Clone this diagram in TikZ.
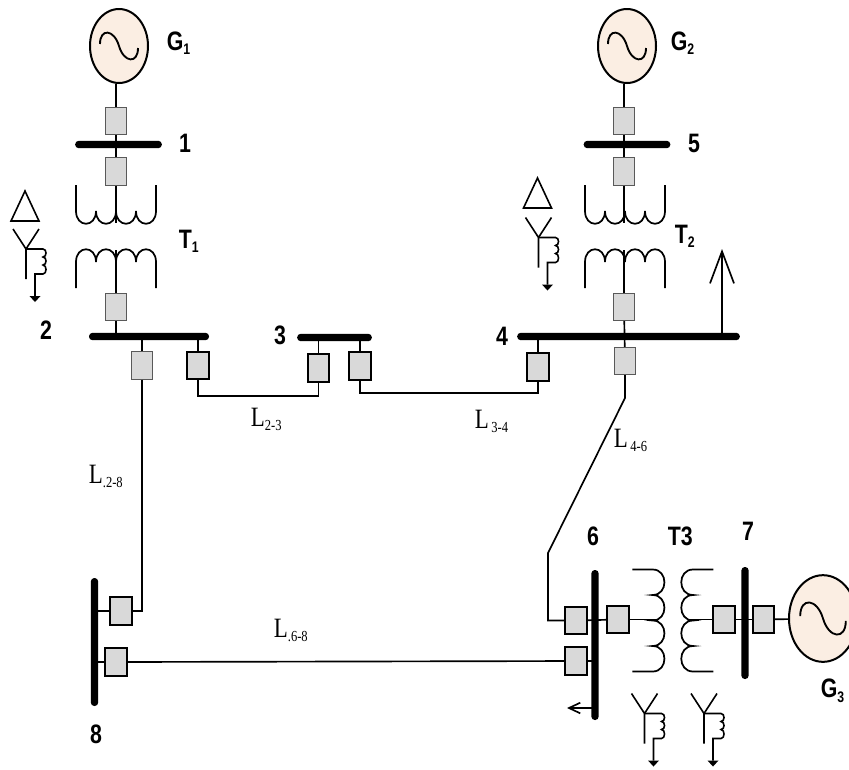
\documentclass[tikz,border=0pt]{standalone}
\usepackage{fontspec}
\setmainfont[FakeStretch=0.82]{Liberation Serif}
\newfontfamily\busfont[FakeStretch=0.8]{Liberation Sans}
\usetikzlibrary{arrows.meta,positioning,shapes.geometric}
\definecolor{genfill}{HTML}{FBEEE3}
\definecolor{cbfill}{HTML}{D9D9D9}
\newcommand{\subtxt}[1]{\raisebox{-3.4pt}{\fontsize{11.5}{11.5}\selectfont #1}}
\tikzset{
  cb/.style={rectangle,draw=black!65,fill=cbfill,line width=.8pt,minimum width=16pt,minimum height=20.5pt,inner sep=0pt},
  cbk/.style={cb,draw=black,line width=1.5pt},
  bush/.style={rectangle,fill=black,rounded corners=2.6pt,minimum height=5.5pt,inner sep=0pt},
  busv/.style={rectangle,fill=black,rounded corners=2.6pt,minimum width=5.5pt,inner sep=0pt},
  gen/.style={ellipse,draw=black,fill=genfill,line width=1.5pt,minimum width=43.5pt,minimum height=55.5pt,inner sep=0pt},
  bold/.style={font=\busfont\bfseries\fontsize{20}{20}\selectfont,inner sep=0pt,anchor=base},
  boldw/.style={bold,anchor=base west},
  linelab/.style={font=\fontsize{21}{21}\selectfont,inner sep=0pt,anchor=base west},
  pics/sine/.style={code={
    \draw[line width=1.4pt] (-19,-2) .. controls (-19,-18) and (-5,-17) .. (0,0) .. controls (5,17) and (19,18) .. (19,2);
  }},
  pics/winding/.style={code={
    \draw[line width=1.3pt] (-40,-#1) -- (-40,0) .. controls (-40,17) and (-20,17) .. (-20,0)
      .. controls (-20,17) and (0,17) .. (0,0) .. controls (0,17) and (20,17) .. (20,0)
      .. controls (20,17) and (40,17) .. (40,0) -- (40,-#1);
  }},
  pics/delta/.style={code={
    \draw[line width=1.2pt] (0,0) -- (-14,30) -- (14,30) -- cycle;
  }},
  pics/wyegnd/.style={code={
    \draw[line width=1.2pt] (-13,-20) -- (0,0) -- (13,-20) (0,0) -- (0,30);
    \draw[line width=1.2pt] (0,0) -- (17,0) .. controls (21,0) and (21,8) .. (17,8)
      .. controls (21,8) and (21,16) .. (17,16) .. controls (21,16) and (21,25) .. (17,25) -- (9,25) -- (9,47);
    \fill (3.5,47) -- (14.5,47) -- (9,53) -- cycle;
  }},
}
\begin{document}
\begin{tikzpicture}[x=.75pt,y=-.75pt,line width=1.25pt]
  \useasboundingbox (0,0) rectangle (849,769);
  % generators
  \node[gen] (gen1) at (119,46) {};
  \node[gen] (gen2) at (627,46) {};
  \node[gen,minimum width=51pt,minimum height=65pt] (gen3) at (823,618.5) {};
  \pic at (gen1) {sine};
  \pic at (gen2) {sine};
  \pic[scale=1.2] at (gen3) {sine};
  % busbars
  \node[bush,minimum width=65pt] (bus1) at (118.5,144.5) {};
  \node[bush,minimum width=90pt] (bus2) at (149,336.5) {};
  \node[bush,minimum width=56pt] (bus3) at (334.5,337.5) {};
  \node[bush,minimum width=167pt] (bus4) at (628.5,336.5) {};
  \node[bush,minimum width=65pt] (bus5) at (627,144.5) {};
  \node[busv,minimum height=112.5pt] (bus6) at (595,645) {};
  \node[busv,minimum height=84pt] (bus7) at (745,623) {};
  \node[busv,minimum height=96pt] (bus8) at (94.5,642) {};
  % breakers
  \node[cb] (cb11) at (116,121) {};
  \node[cb] (cb12) at (116,171.5) {};
  \node[cb] (cb21) at (116,307) {};
  \node[cb] (cb28) at (142,365.5) {};
  \node[cbk] (cb23) at (198,365.5) {};
  \node[cbk] (cb32) at (318.5,368) {};
  \node[cbk] (cb34) at (360,366) {};
  \node[cbk] (cb43) at (538,367) {};
  \node[cb] (cb46) at (625,361) {};
  \node[cb] (cb42) at (624,307) {};
  \node[cb] (cb52) at (624,171.5) {};
  \node[cb] (cb51) at (624,121) {};
  \node[cbk] (cb64) at (576,620.5) {};
  \node[cbk] (cb68) at (576,661) {};
  \node[cbk] (cb6t) at (618,619.5) {};
  \node[cbk] (cb7t) at (724,619.5) {};
  \node[cbk] (cb7g) at (763.5,619.5) {};
  \node[cbk] (cb82) at (121,611) {};
  \node[cbk] (cb86) at (116,662) {};
  % bends and winding ends
  \coordinate (w23) at (198,396);
  \coordinate (w34) at (360,393);
  \coordinate (w46a) at (625,398);
  \coordinate (w46b) at (548,553);
  \coordinate (t1u) at (116,223);
  \coordinate (t1l) at (116,250);
  \coordinate (t2u) at (624,223);
  \coordinate (t2l) at (624,250);
  \coordinate (t3l) at (657,619.5);
  \coordinate (t3r) at (690,619.5);
  \coordinate (loadtip) at (722,249);
  \coordinate (loadsix) at (567,708);
  % transformers
  \pic at (116,211) {winding=26};
  \pic[yscale=-1] at (116,262) {winding=26};
  \pic at (625,211) {winding=26};
  \pic[yscale=-1] at (625,262) {winding=26};
  \pic[rotate=90,xscale=1.275,yscale=.92] at (652.7,620.5) {winding=22};
  \pic[rotate=-90,xscale=1.275,yscale=.92] at (693,620.5) {winding=22};
  \pic at (25,191) {delta};
  \pic at (537.5,178) {delta};
  \pic at (26,249) {wyegnd};
  \pic at (538.5,237.5) {wyegnd};
  \pic at (644.5,713.5) {wyegnd};
  \pic at (704,713.5) {wyegnd};
  % connectors
  \draw (cb11) -- (cb11 |- gen1.south);
  \draw (cb11) -- (cb12);
  \draw (cb12) -- (t1u);
  \draw (cb21) -- (t1l);
  \draw (cb21) -- (cb21 |- bus2.center);
  \draw (cb28) -- (cb28 |- bus2.center);
  \draw (cb23) -- (cb23 |- bus2.center);
  \draw (cb23) -- (w23) -| (cb32);
  \draw (cb32) -- (cb32 |- bus3.center);
  \draw (cb34) -- (cb34 |- bus3.center);
  \draw (cb34) -- (w34) -| (cb43);
  \draw (cb43) -- (cb43 |- bus4.center);
  \draw (cb51) -- (cb51 |- gen2.south);
  \draw (cb51) -- (cb52);
  \draw (cb52) -- (t2u);
  \draw (cb42) -- (t2l);
  \draw (cb42) -- (cb46);
  \draw (cb46) -- (w46a) -- (w46b) |- (cb64);
  \draw (cb28) |- (cb82);
  \draw (cb82) -- (cb82 -| bus8.center);
  \draw (cb86) -- (cb86 -| bus8.center);
  \draw (cb86) -- (cb68);
  \draw (cb68) -- (cb68 -| bus6.center);
  \draw (cb64) -- (cb6t);
  \draw (cb6t) -- (t3l);
  \draw (cb7t) -- (t3r);
  \draw (cb7t) -- (cb7g);
  \draw (cb7g) -- (gen3);
  \draw[-{Straight Barb[length=24pt,width=18pt]}] (loadtip |- bus4.center) -- (loadtip);
  \draw[-{Straight Barb[length=8.5pt,width=8pt]}] (loadsix -| bus6.center) -- (loadsix);
  % labels
  \node[boldw] (lg1) at (166,50) {G\subtxt{1}};
  \node[boldw] (lg2) at (670,50) {G\subtxt{2}};
  \node[boldw] (lg3) at (820,697.5) {G\subtxt{3}};
  \node[boldw] (lt1) at (178,248) {T\subtxt{1}};
  \node[boldw] (lt2) at (674,243) {T\subtxt{2}};
  \node[boldw] (lt3) at (667,545) {T3};
  \node[bold] (lb1) at (185,152) {1};
  \node[bold] (lb2) at (46,339) {2};
  \node[bold] (lb3) at (280,344) {3};
  \node[bold] (lb4) at (502,345) {4};
  \node[bold] (lb5) at (694,152) {5};
  \node[bold] (lb6) at (593,545) {6};
  \node[bold] (lb7) at (748,540) {7};
  \node[bold] (lb8) at (96,743) {8};
  \node[linelab] (l23) at (250,426) {L\subtxt{2-3}};
  \node[linelab] (l34) at (474,428) {L\subtxt{\,3-4}};
  \node[linelab] (l46) at (613,447) {L\subtxt{\,4-6}};
  \node[linelab] (l28) at (88,483) {L\subtxt{.2-8}};
  \node[linelab] (l68) at (273,637) {L\subtxt{.6-8}};
\end{tikzpicture}
\end{document}
